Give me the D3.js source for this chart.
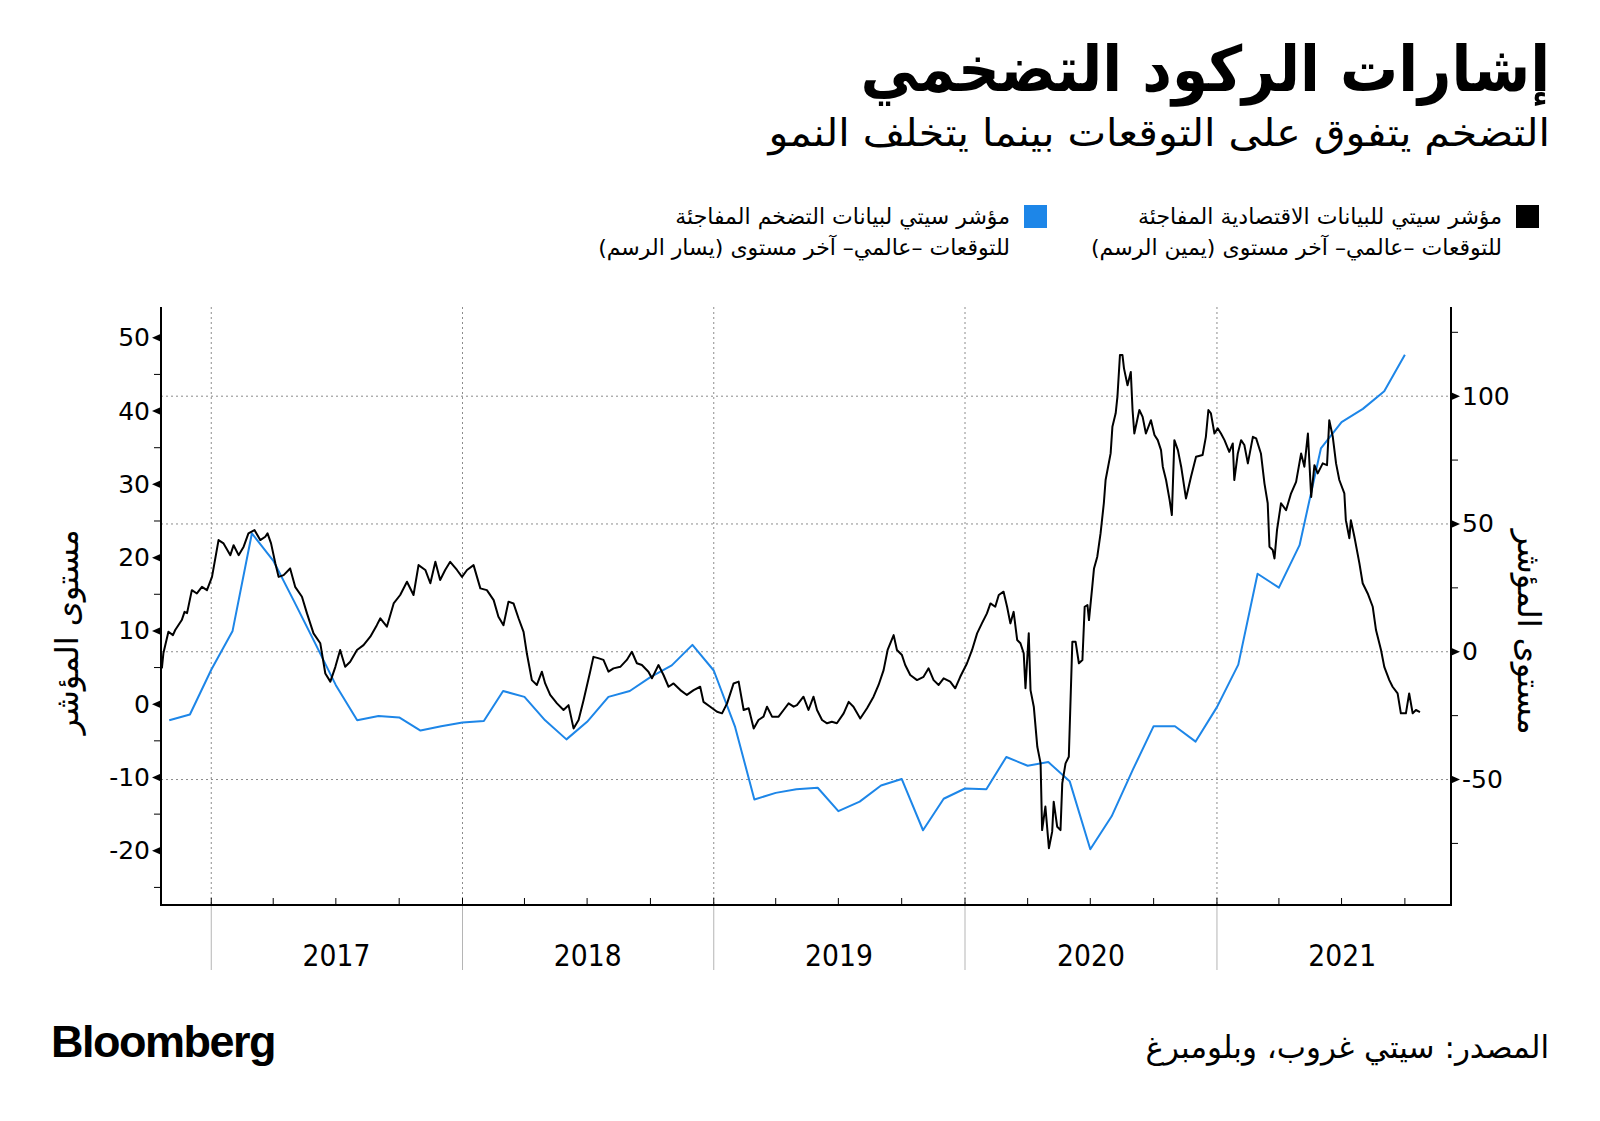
<!DOCTYPE html>
<html>
<head>
<meta charset="utf-8">
<script src="https://cdn.jsdelivr.net/npm/d3@7"></script>
<style>
  body { margin: 0; background: #fff; }
  svg { display: block; }
</style>
</head>
<body>
<script>
// مؤشر سيتي للتضخم (المحور الأيسر) - قيم شهرية
const inflationMonths = [
  "2016-11", "2016-12", "2017-01", "2017-02", "2017-03", "2017-04", "2017-05", "2017-06",
  "2017-07", "2017-08", "2017-09", "2017-10", "2017-11", "2017-12", "2018-01", "2018-02",
  "2018-03", "2018-04", "2018-05", "2018-06", "2018-07", "2018-08", "2018-09", "2018-10",
  "2018-11", "2018-12", "2019-01", "2019-02", "2019-03", "2019-04", "2019-05", "2019-06",
  "2019-07", "2019-08", "2019-09", "2019-10", "2019-11", "2019-12", "2020-01", "2020-02",
  "2020-03", "2020-04", "2020-05", "2020-06", "2020-07", "2020-08", "2020-09", "2020-10",
  "2020-11", "2020-12", "2021-01", "2021-02", "2021-03", "2021-04", "2021-05", "2021-06",
  "2021-07", "2021-08", "2021-09", "2021-10"
]
const inflationValues = [
  -2.2, -1.4, 4.7, 10.0, 23.3, 19.6, 14.1, 8.3,
  2.6, -2.2, -1.6, -1.8, -3.6, -3.0, -2.5, -2.3,
  1.8, 1.0, -2.2, -4.8, -2.4, 1.0, 1.8, 3.7,
  5.3, 8.1, 4.6, -3.1, -13.0, -12.1, -11.6, -11.4,
  -14.6, -13.3, -11.1, -10.2, -17.2, -12.9, -11.5, -11.6,
  -7.2, -8.4, -7.9, -10.5, -19.8, -15.3, -8.9, -3.0,
  -3.0, -5.1, -0.4, 5.4, 17.8, 15.9, 21.7, 34.9,
  38.5, 40.3, 42.7, 47.7
]

// مؤشر سيتي للبيانات الاقتصادية (المحور الأيمن) - [سنة عشرية, قيمة]
const economicSurprise = [
  [2016.804, -6.5], [2016.810, -0.6], [2016.830, 7.8], [2016.848, 6.5], [2016.857, 8.5],
  [2016.883, 12.4], [2016.894, 15.6], [2016.904, 15.1], [2016.923, 24.1], [2016.943, 22.8],
  [2016.963, 25.4], [2016.983, 24.1], [2017.003, 29.3], [2017.029, 43.7], [2017.049, 42.4],
  [2017.076, 37.8], [2017.089, 41.7], [2017.109, 37.8], [2017.129, 41.1], [2017.148, 46.3],
  [2017.172, 47.6], [2017.195, 43.7], [2017.215, 45.0], [2017.224, 46.3], [2017.238, 42.4],
  [2017.255, 34.6], [2017.268, 29.3], [2017.288, 30.0], [2017.314, 32.6], [2017.334, 25.4],
  [2017.361, 21.5], [2017.381, 15.0], [2017.407, 7.2], [2017.434, 3.3], [2017.454, -8.5],
  [2017.474, -11.7], [2017.494, -5.9], [2017.513, 0.7], [2017.533, -5.9], [2017.553, -3.9],
  [2017.580, 0.7], [2017.606, 2.6], [2017.633, 5.9], [2017.659, 10.4], [2017.673, 13.1],
  [2017.699, 9.8], [2017.726, 18.9], [2017.752, 22.2], [2017.779, 27.4], [2017.805, 22.2],
  [2017.825, 33.9], [2017.852, 32.0], [2017.872, 26.8], [2017.892, 35.2], [2017.911, 28.1],
  [2017.931, 32.0], [2017.951, 35.2], [2017.978, 32.0], [2017.998, 29.3], [2018.018, 32.0],
  [2018.044, 33.9], [2018.071, 24.8], [2018.097, 24.1], [2018.124, 20.2], [2018.143, 13.7],
  [2018.163, 10.4], [2018.183, 19.6], [2018.203, 18.9], [2018.223, 13.1], [2018.243, 7.8],
  [2018.256, -0.6], [2018.276, -11.1], [2018.296, -13.0], [2018.316, -7.8], [2018.329, -12.4],
  [2018.349, -16.9], [2018.376, -20.2], [2018.402, -22.8], [2018.422, -20.9], [2018.442, -30.0],
  [2018.462, -26.7], [2018.482, -18.9], [2018.508, -7.8], [2018.521, -2.0], [2018.540, -2.5],
  [2018.561, -3.2], [2018.581, -7.8], [2018.601, -6.5], [2018.628, -5.9], [2018.654, -3.2],
  [2018.674, 0.0], [2018.694, -4.5], [2018.714, -5.2], [2018.740, -7.8], [2018.754, -10.4],
  [2018.780, -5.2], [2018.800, -9.1], [2018.820, -13.7], [2018.840, -12.4], [2018.867, -15.0],
  [2018.893, -16.9], [2018.920, -15.0], [2018.946, -13.7], [2018.959, -19.6], [2018.986, -21.5],
  [2019.013, -23.5], [2019.033, -24.1], [2019.053, -20.2], [2019.079, -12.4], [2019.099, -11.7],
  [2019.119, -22.8], [2019.139, -22.1], [2019.159, -30.0], [2019.178, -26.7], [2019.198, -25.4],
  [2019.212, -21.5], [2019.232, -25.4], [2019.258, -25.4], [2019.278, -22.8], [2019.298, -20.2],
  [2019.318, -21.5], [2019.331, -20.9], [2019.357, -17.6], [2019.377, -22.8], [2019.397, -17.6],
  [2019.411, -22.8], [2019.431, -26.7], [2019.451, -28.0], [2019.470, -27.4], [2019.490, -28.0],
  [2019.517, -24.1], [2019.537, -19.6], [2019.556, -21.5], [2019.583, -26.1], [2019.610, -22.1],
  [2019.636, -17.6], [2019.656, -13.0], [2019.676, -7.2], [2019.692, 0.7], [2019.716, 6.5],
  [2019.729, 0.7], [2019.749, -1.3], [2019.762, -5.2], [2019.782, -9.1], [2019.809, -11.1],
  [2019.835, -9.8], [2019.855, -6.5], [2019.875, -11.1], [2019.895, -13.0], [2019.915, -10.4],
  [2019.941, -11.7], [2019.961, -14.3], [2019.981, -9.8], [2020.008, -4.5], [2020.028, 0.7],
  [2020.048, 7.2], [2020.067, 11.1], [2020.087, 15.0], [2020.101, 18.9], [2020.120, 17.6],
  [2020.134, 22.2], [2020.153, 23.5], [2020.167, 17.6], [2020.180, 11.1], [2020.193, 15.6],
  [2020.207, 4.6], [2020.220, 3.3], [2020.233, -0.6], [2020.240, -14.3], [2020.253, 7.2],
  [2020.260, -15.0], [2020.273, -21.5], [2020.287, -37.2], [2020.300, -43.7], [2020.306, -69.8],
  [2020.319, -60.6], [2020.333, -76.9], [2020.346, -70.4], [2020.352, -58.7], [2020.366, -68.5],
  [2020.379, -69.8], [2020.386, -51.5], [2020.399, -43.7], [2020.412, -41.1], [2020.426, 3.9],
  [2020.439, 3.9], [2020.452, -4.5], [2020.466, -3.2], [2020.475, 17.6], [2020.486, 18.3],
  [2020.492, 12.4], [2020.505, 25.4], [2020.512, 32.6], [2020.525, 37.2], [2020.538, 46.3],
  [2020.551, 58.1], [2020.558, 67.2], [2020.578, 77.6], [2020.585, 88.0], [2020.598, 93.3],
  [2020.605, 99.8], [2020.615, 116.1], [2020.625, 116.1], [2020.631, 110.9], [2020.645, 104.3],
  [2020.658, 109.5], [2020.665, 94.6], [2020.672, 85.4], [2020.692, 94.6], [2020.705, 91.9],
  [2020.718, 85.4], [2020.738, 90.6], [2020.752, 84.8], [2020.765, 82.8], [2020.778, 78.9],
  [2020.785, 72.4], [2020.798, 67.2], [2020.812, 59.4], [2020.821, 53.5], [2020.831, 82.8],
  [2020.845, 78.9], [2020.858, 72.4], [2020.877, 60.0], [2020.897, 68.5], [2020.917, 76.3],
  [2020.943, 77.0], [2020.956, 84.1], [2020.966, 94.6], [2020.976, 93.3], [2020.990, 85.4],
  [2021.003, 87.4], [2021.016, 85.4], [2021.030, 82.8], [2021.049, 78.2], [2021.063, 81.5],
  [2021.069, 67.2], [2021.083, 77.6], [2021.096, 82.8], [2021.109, 80.9], [2021.123, 73.7],
  [2021.143, 84.1], [2021.156, 83.5], [2021.175, 77.6], [2021.189, 65.9], [2021.202, 58.1],
  [2021.209, 41.1], [2021.222, 39.8], [2021.229, 36.5], [2021.239, 47.6], [2021.255, 58.1],
  [2021.275, 55.4], [2021.295, 62.0], [2021.315, 66.5], [2021.335, 77.6], [2021.348, 72.4],
  [2021.362, 85.4], [2021.375, 60.6], [2021.388, 73.0], [2021.401, 69.8], [2021.421, 73.7],
  [2021.438, 73.0], [2021.447, 90.6], [2021.461, 84.1], [2021.474, 73.7], [2021.487, 67.2],
  [2021.507, 62.0], [2021.513, 51.5], [2021.527, 44.4], [2021.533, 51.5], [2021.547, 45.0],
  [2021.567, 34.6], [2021.580, 26.8], [2021.600, 22.8], [2021.620, 17.6], [2021.633, 8.5],
  [2021.653, 0.7], [2021.666, -5.9], [2021.686, -11.1], [2021.699, -13.7], [2021.719, -16.3],
  [2021.732, -24.1], [2021.752, -24.1], [2021.765, -16.3], [2021.779, -24.1], [2021.792, -22.8],
  [2021.808, -23.6]
]

const xDomain = ["2016-10-20", "2021-12-07"]
const years = [2017, 2018, 2019, 2020, 2021]
const leftTicks = [-20, -10, 0, 10, 20, 30, 40, 50]
const leftMinor = [-25, -15, -5, 5, 15, 25, 35, 45]
const rightTicks = [-50, 0, 50, 100]
const rightMinor = [-75, -25, 25, 75, 125]
const leftDomain = [-27.4, 54.2]
const rightDomain = [-99.1, 134.9]

const arabicFont = "'DejaVu Sans', 'Noto Sans', sans-serif"
const numFont = "'DejaVu Sans', sans-serif"
const yearFont = "'DejaVu Sans', sans-serif"

const width = 1600
const height = 1121
const plot = { left: 161, right: 1451, top: 307, bottom: 905 }

const parseDay = d3.timeParse("%Y-%m-%d")
const parseMonth = d3.timeParse("%Y-%m")
const yearToDate = (t) => {
    const y = Math.floor(t)
    const a = new Date(y, 0, 1), b = new Date(y + 1, 0, 1)
    return new Date(+a + (t - y) * (b - a))
}

const x = d3.scaleTime()
    .domain(xDomain.map(parseDay))
    .range([plot.left, plot.right])
const yLeft = d3.scaleLinear().domain(leftDomain).range([plot.bottom, plot.top])
const yRight = d3.scaleLinear().domain(rightDomain).range([plot.bottom, plot.top])

const svg = d3.select("body").append("svg")
    .attr("width", width)
    .attr("height", height)
    .attr("viewBox", `0 0 ${width} ${height}`)

svg.append("rect").attr("width", width).attr("height", height).attr("fill", "#fff")

// العنوان
svg.append("text")
    .attr("transform", "translate(1550 91) scale(0.92 1)")
    .attr("direction", "rtl").attr("text-anchor", "start")
    .attr("font-family", arabicFont).attr("font-weight", "700")
    .attr("font-size", 63)
    .text("إشارات الركود التضخمي")

svg.append("text")
    .attr("transform", "translate(1550 146) scale(1.08 1)")
    .attr("direction", "rtl").attr("text-anchor", "start")
    .attr("font-family", arabicFont)
    .attr("font-size", 38)
    .text("التضخم يتفوق على التوقعات  بينما يتخلف النمو")

// مفتاح الرسم
const legend = [
    { color: "#000", right: 1539, lines: ["مؤشر سيتي للبيانات الاقتصادية المفاجئة", "للتوقعات –عالمي– آخر مستوى (يمين الرسم)"] },
    { color: "#1d86e8", right: 1047, lines: ["مؤشر سيتي لبيانات التضخم المفاجئة", "للتوقعات –عالمي– آخر مستوى (يسار الرسم)"] }
]
const legendItems = svg.append("g").selectAll("g").data(legend).enter().append("g")
legendItems.append("rect")
    .attr("x", (d) => d.right - 23).attr("y", 205)
    .attr("width", 23).attr("height", 23)
    .attr("fill", (d) => d.color)
legendItems.each(function (d) {
    d3.select(this).selectAll("text").data(d.lines).enter().append("text")
        .attr("x", d.right - 37)
        .attr("y", (_, i) => 224 + i * 31)
        .attr("direction", "rtl").attr("text-anchor", "start")
        .attr("font-family", arabicFont).attr("font-size", 22)
        .text((t) => t)
})

// شبكة
const grid = svg.append("g")
grid.selectAll(".h").data(rightTicks).enter().append("line")
    .attr("x1", plot.left).attr("x2", plot.right)
    .attr("y1", (d) => yRight(d)).attr("y2", (d) => yRight(d))
    .attr("stroke", "#8c8c8c").attr("stroke-width", 1).attr("stroke-dasharray", "2,3")
grid.selectAll(".v").data(years).enter().append("line")
    .attr("x1", (d) => x(new Date(d, 0, 1))).attr("x2", (d) => x(new Date(d, 0, 1)))
    .attr("y1", plot.top).attr("y2", plot.bottom)
    .attr("stroke", "#8c8c8c").attr("stroke-width", 1).attr("stroke-dasharray", "2,3")
grid.selectAll(".sep").data(years).enter().append("line")
    .attr("x1", (d) => x(new Date(d, 0, 1))).attr("x2", (d) => x(new Date(d, 0, 1)))
    .attr("y1", plot.bottom).attr("y2", 970)
    .attr("stroke", "#b5b5b5").attr("stroke-width", 1)

// الخطوط
const inflation = inflationMonths.map((m, i) => ({ date: parseMonth(m), value: inflationValues[i] }))
const economic = economicSurprise.map(([t, v]) => ({ date: yearToDate(t), value: v }))

svg.append("path")
    .datum(inflation)
    .attr("fill", "none")
    .attr("stroke", "#1d86e8")
    .attr("stroke-width", 2)
    .attr("stroke-linejoin", "round")
    .attr("d", d3.line().x((d) => x(d.date)).y((d) => yLeft(d.value)))

svg.append("path")
    .datum(economic)
    .attr("fill", "none")
    .attr("stroke", "#000")
    .attr("stroke-width", 2)
    .attr("stroke-linejoin", "round")
    .attr("d", d3.line().x((d) => x(d.date)).y((d) => yRight(d.value)))

// المحاور
const axes = svg.append("g").attr("stroke", "#000")
axes.append("line").attr("x1", plot.left).attr("x2", plot.left).attr("y1", plot.top).attr("y2", plot.bottom).attr("stroke-width", 2)
axes.append("line").attr("x1", plot.right).attr("x2", plot.right).attr("y1", plot.top).attr("y2", plot.bottom).attr("stroke-width", 2)
axes.append("line").attr("x1", plot.left - 1).attr("x2", plot.right + 1).attr("y1", plot.bottom).attr("y2", plot.bottom).attr("stroke-width", 2)

axes.selectAll(".lm").data(leftMinor).enter().append("line")
    .attr("x1", plot.left - 7).attr("x2", plot.left)
    .attr("y1", (d) => yLeft(d)).attr("y2", (d) => yLeft(d))
axes.selectAll(".rm").data(rightMinor).enter().append("line")
    .attr("x1", plot.right).attr("x2", plot.right + 7)
    .attr("y1", (d) => yRight(d)).attr("y2", (d) => yRight(d))
axes.selectAll(".q").data(x.ticks(d3.timeMonth.every(3))).enter().append("line")
    .attr("x1", (d) => x(d)).attr("x2", (d) => x(d))
    .attr("y1", plot.bottom - 7).attr("y2", plot.bottom)

svg.append("g").selectAll("path").data(leftTicks).enter().append("path")
    .attr("d", (d) => `M ${plot.left} ${yLeft(d) - 4} L ${plot.left} ${yLeft(d) + 4} L ${plot.left - 9} ${yLeft(d)} Z`)
    .attr("fill", "#000")
svg.append("g").selectAll("path").data(rightTicks).enter().append("path")
    .attr("d", (d) => `M ${plot.right} ${yRight(d) - 4} L ${plot.right} ${yRight(d) + 4} L ${plot.right + 9} ${yRight(d)} Z`)
    .attr("fill", "#000")

svg.append("g").selectAll("text").data(leftTicks).enter().append("text")
    .attr("x", plot.left - 11).attr("y", (d) => yLeft(d))
    .attr("text-anchor", "end").attr("dominant-baseline", "central")
    .attr("font-family", numFont).attr("font-size", 25)
    .text((d) => d)
svg.append("g").selectAll("text").data(rightTicks).enter().append("text")
    .attr("x", plot.right + 11).attr("y", (d) => yRight(d))
    .attr("text-anchor", "start").attr("dominant-baseline", "central")
    .attr("font-family", numFont).attr("font-size", 25)
    .text((d) => d)

svg.append("g").selectAll("text").data(years).enter().append("text")
    .attr("transform", (d) => `translate(${x(new Date(d, 6, 2))} 966) scale(0.86 1)`)
    .attr("text-anchor", "middle")
    .attr("font-family", yearFont).attr("font-size", 31)
    .text((d) => d)

// عناوين المحاور
svg.append("text")
    .attr("transform", "translate(78 632) rotate(-90)")
    .attr("text-anchor", "middle")
    .attr("font-family", arabicFont).attr("font-size", 32)
    .text("مستوى المؤشر")
svg.append("text")
    .attr("transform", "translate(1518 632) rotate(90)")
    .attr("text-anchor", "middle")
    .attr("font-family", arabicFont).attr("font-size", 32)
    .text("مستوى المؤشر")

// التذييل
svg.append("text")
    .attr("x", 51).attr("y", 1057)
    .attr("font-family", "'Liberation Sans', Arial, sans-serif")
    .attr("font-weight", "700").attr("font-size", 45).attr("letter-spacing", -1.5)
    .text("Bloomberg")
svg.append("text")
    .attr("x", 1549).attr("y", 1058)
    .attr("direction", "rtl").attr("text-anchor", "start")
    .attr("font-family", arabicFont).attr("font-size", 31)
    .text("المصدر: سيتي غروب، وبلومبرغ")
</script>
</body>
</html>
